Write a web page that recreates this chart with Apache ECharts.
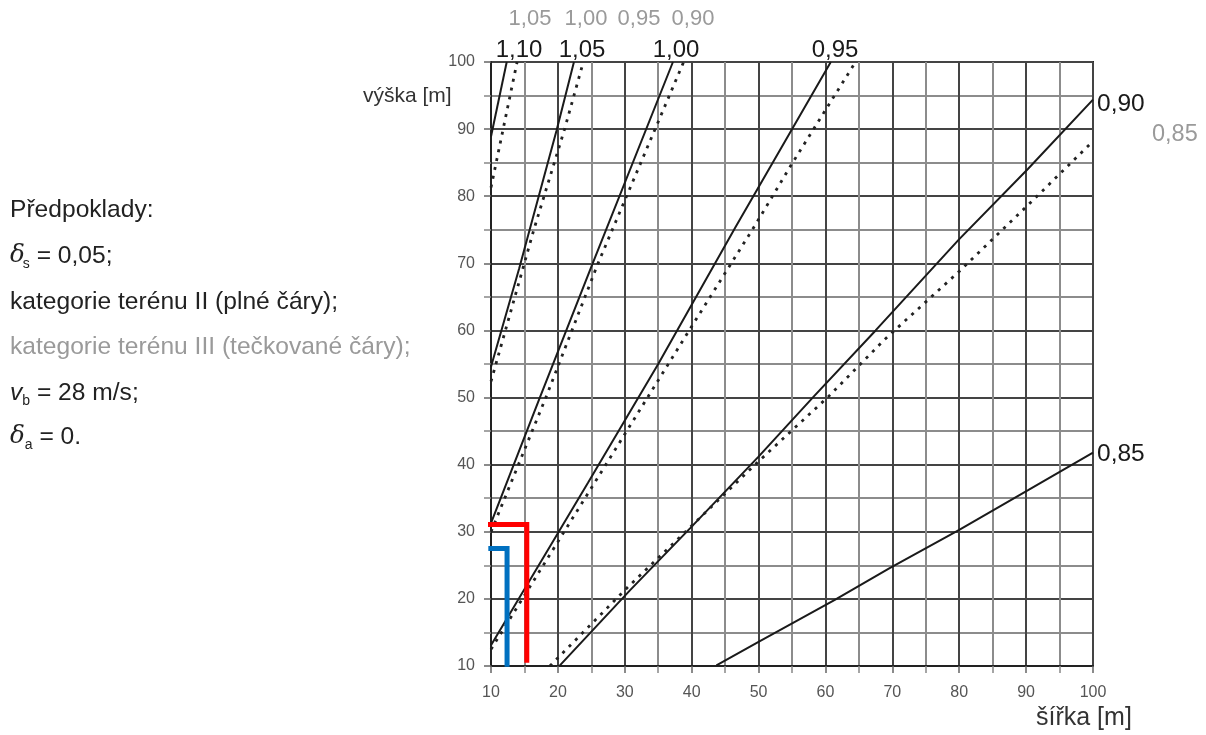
<!DOCTYPE html>
<html>
<head>
<meta charset="utf-8">
<script src="https://cdn.jsdelivr.net/npm/echarts@6/dist/echarts.min.js"></script>
<style>
  html, body { margin: 0; padding: 0; background: #fff; }
  #chart { width: 1206px; height: 735px; }
</style>
</head>
<body>
<div id="chart"></div>
<script>
// ---- Data ----
// Axis ticks
var xTicks = [10, 20, 30, 40, 50, 60, 70, 80, 90, 100];
var yTicks = [10, 20, 30, 40, 50, 60, 70, 80, 90, 100];

// Terrain category II (solid lines): [width, height]
var solid110 = [[10, 88.9], [12.35, 100]];
var solid105 = [[10, 54.6], [14.2, 69.2], [19.8, 89.8], [22.4, 100]];
var solid100 = [[10, 31.3], [17.3, 50], [25.2, 70], [37.2, 100]];
var solid095 = [[10, 13.1], [24.5, 37.3], [35, 55], [46.5, 75.3], [60.8, 100]];
var solid090 = [[20.3, 10.1], [30.8, 21.3], [39.75, 30.5], [50, 41.2], [58.2, 50.1], [67.5, 60], [79.9, 73.5], [90.3, 84.1], [100, 94.4]];
var solid085 = [[43.7, 10.1], [50, 13.6], [61.4, 19.85], [69.6, 24.6], [80, 30.3], [90.3, 36.2], [100, 41.8]];

// Terrain category III (dotted lines)
var dot105 = [[10, 81.3], [13.9, 100]];
var dot100 = [[10, 52.4], [16.4, 75], [21, 90], [23.8, 100]];
var dot095 = [[10, 30], [18.2, 50], [26, 70], [38.8, 100]];
var dot090 = [[10, 12.5], [25.3, 37], [40.5, 61.4], [49.5, 75.7], [54.9, 84.7], [64.5, 100]];
var dot085 = [[18.8, 10], [30.5, 21.8], [42.2, 33], [49.95, 40.45], [60.4, 50.1], [68.9, 58.7], [80, 68.8], [90.1, 78.5], [100, 88.2]];

// Highlight paths (red and blue)
var redPath = [[9.4, 31.1], [15.35, 31.1], [15.35, 10.5]];
var bluePath = [[9.6, 27.5], [12.4, 27.5], [12.4, 9.9]];

// Labels
var solidLabels = ['1,10', '1,05', '1,00', '0,95', '0,90', '0,85'];
var dottedLabels = ['1,05', '1,00', '0,95', '0,90', '0,85'];

var FONT = 'Liberation Sans, Arial, Helvetica, sans-serif';
var chart = echarts.init(document.getElementById('chart'), null, { renderer: 'canvas' });

function solidSeries(name, data) {
  return {
    name: name, type: 'line', data: data, showSymbol: false, symbol: 'none',
    lineStyle: { color: '#1a1a1a', width: 2 }, z: 3, silent: true
  };
}
function dotSeries(name, data) {
  return {
    name: name, type: 'line', data: data, showSymbol: false, symbol: 'none',
    lineStyle: { color: '#222', width: 2.8, type: [3, 6] }, z: 3, silent: true
  };
}

var axisCommon = {
  type: 'value', min: 10, max: 100, interval: 10,
  axisLine: { show: true, onZero: false, lineStyle: { color: '#222', width: 2 } },
  axisTick: { show: true, length: 7, lineStyle: { color: '#666', width: 1.5 } },
  minorTick: { show: true, splitNumber: 2, length: 7, lineStyle: { color: '#888', width: 1.5 } },
  splitLine: { show: true, lineStyle: { color: '#444', width: 2 } },
  minorSplitLine: { show: true, lineStyle: { color: '#8c8c8c', width: 2 } }
};

var leftX = 10;
var LF = 24.6;
var option = {
  animation: false,
  backgroundColor: '#fff',
  grid: { left: 491, right: 113, top: 62, bottom: 69, show: true, borderColor: '#222', borderWidth: 2, backgroundColor: 'transparent' },
  xAxis: Object.assign({}, axisCommon, {
    axisLabel: { color: '#555', fontSize: 16, margin: 19, fontFamily: FONT,
      formatter: function (v) { return xTicks.indexOf(v) >= 0 ? String(v) : ''; } }
  }),
  yAxis: Object.assign({}, axisCommon, {
    axisLabel: { color: '#555', fontSize: 16, margin: 16, fontFamily: FONT,
      formatter: function (v) { return yTicks.indexOf(v) >= 0 ? String(v) : ''; } }
  }),
  series: [
    solidSeries('II 1,10', solid110),
    solidSeries('II 1,05', solid105),
    solidSeries('II 1,00', solid100),
    solidSeries('II 0,95', solid095),
    solidSeries('II 0,90', solid090),
    solidSeries('II 0,85', solid085),
    dotSeries('III 1,05', dot105),
    dotSeries('III 1,00', dot100),
    dotSeries('III 0,95', dot095),
    dotSeries('III 0,90', dot090),
    dotSeries('III 0,85', dot085),
    { name: 'red', type: 'line', data: redPath, showSymbol: false, symbol: 'none', clip: false,
      lineStyle: { color: '#ff0000', width: 5, join: 'miter', cap: 'butt' }, z: 10, silent: true },
    { name: 'blue', type: 'line', data: bluePath, showSymbol: false, symbol: 'none', clip: false,
      lineStyle: { color: '#0070c0', width: 5, join: 'miter', cap: 'butt' }, z: 10, silent: true }
  ],
  graphic: [
    // axis names
    { type: 'text', left: 363, top: 86, style: { text: 'výška [m]', fontSize: 21, fill: '#333', fontFamily: FONT } },
    { type: 'text', left: 1036, top: 706, style: { text: 'šířka [m]', fontSize: 25, fill: '#333', fontFamily: FONT } },
    // solid-line labels (terrain II)
    { type: 'text', x: 519, y: 50, style: { text: solidLabels[0], fontSize: 24, fill: '#1a1a1a', fontFamily: FONT, align: 'center', verticalAlign: 'middle' } },
    { type: 'text', x: 582, y: 50, style: { text: solidLabels[1], fontSize: 24, fill: '#1a1a1a', fontFamily: FONT, align: 'center', verticalAlign: 'middle' } },
    { type: 'text', x: 676, y: 50, style: { text: solidLabels[2], fontSize: 24, fill: '#1a1a1a', fontFamily: FONT, align: 'center', verticalAlign: 'middle' } },
    { type: 'text', x: 835, y: 50, style: { text: solidLabels[3], fontSize: 24, fill: '#1a1a1a', fontFamily: FONT, align: 'center', verticalAlign: 'middle' } },
    { type: 'text', x: 1097, y: 104, style: { text: solidLabels[4], fontSize: 24.5, fill: '#1a1a1a', fontFamily: FONT, align: 'left', verticalAlign: 'middle' } },
    { type: 'text', x: 1097, y: 454, style: { text: solidLabels[5], fontSize: 24.5, fill: '#1a1a1a', fontFamily: FONT, align: 'left', verticalAlign: 'middle' } },
    // dotted-line labels (terrain III)
    { type: 'text', x: 530, y: 19, style: { text: dottedLabels[0], fontSize: 22, fill: '#9a9a9a', fontFamily: FONT, align: 'center', verticalAlign: 'middle' } },
    { type: 'text', x: 586, y: 19, style: { text: dottedLabels[1], fontSize: 22, fill: '#9a9a9a', fontFamily: FONT, align: 'center', verticalAlign: 'middle' } },
    { type: 'text', x: 639, y: 19, style: { text: dottedLabels[2], fontSize: 22, fill: '#9a9a9a', fontFamily: FONT, align: 'center', verticalAlign: 'middle' } },
    { type: 'text', x: 693, y: 19, style: { text: dottedLabels[3], fontSize: 22, fill: '#9a9a9a', fontFamily: FONT, align: 'center', verticalAlign: 'middle' } },
    { type: 'text', x: 1152, y: 135, style: { text: dottedLabels[4], fontSize: 23.5, fill: '#9a9a9a', fontFamily: FONT, align: 'left', verticalAlign: 'middle' } },
    // assumptions block
    { type: 'text', x: leftX, y: 210, style: { text: 'Předpoklady:', fontSize: LF, fill: '#222', fontFamily: FONT, verticalAlign: 'middle' } },
    { type: 'text', x: leftX, y: 256, style: {
        text: '{d|δ}{s|s}{n| = 0,05;}', fontFamily: FONT, verticalAlign: 'middle', fill: '#222',
        rich: { d: { fontSize: LF, fontStyle: 'italic', fill: '#222', lineHeight: 30, fontFamily: 'DejaVu Serif' },
                s: { fontSize: 14, fill: '#222', lineHeight: 30, verticalAlign: 'bottom', padding: [0, 0, 0, -2] },
                n: { fontSize: LF, fill: '#222', lineHeight: 30 } } } },
    { type: 'text', x: leftX, y: 302, style: { text: 'kategorie terénu II (plné čáry);', fontSize: LF, fill: '#222', fontFamily: FONT, verticalAlign: 'middle' } },
    { type: 'text', x: leftX, y: 347, style: { text: 'kategorie terénu III (tečkované čáry);', fontSize: LF, fill: '#9a9a9a', fontFamily: FONT, verticalAlign: 'middle' } },
    { type: 'text', x: leftX, y: 393, style: {
        text: '{v|v}{s|b}{n| = 28 m/s;}', fontFamily: FONT, verticalAlign: 'middle', fill: '#222',
        rich: { v: { fontSize: LF, fontStyle: 'italic', fill: '#222', lineHeight: 30 },
                s: { fontSize: 14, fill: '#222', lineHeight: 30, verticalAlign: 'bottom' },
                n: { fontSize: LF, fill: '#222', lineHeight: 30 } } } },
    { type: 'text', x: leftX, y: 437, style: {
        text: '{d|δ}{s|a}{n| = 0.}', fontFamily: FONT, verticalAlign: 'middle', fill: '#222',
        rich: { d: { fontSize: LF, fontStyle: 'italic', fill: '#222', lineHeight: 30, fontFamily: 'DejaVu Serif' },
                s: { fontSize: 14, fill: '#222', lineHeight: 30, verticalAlign: 'bottom' },
                n: { fontSize: LF, fill: '#222', lineHeight: 30 } } } }
  ]
};
chart.setOption(option);
</script>
</body>
</html>
